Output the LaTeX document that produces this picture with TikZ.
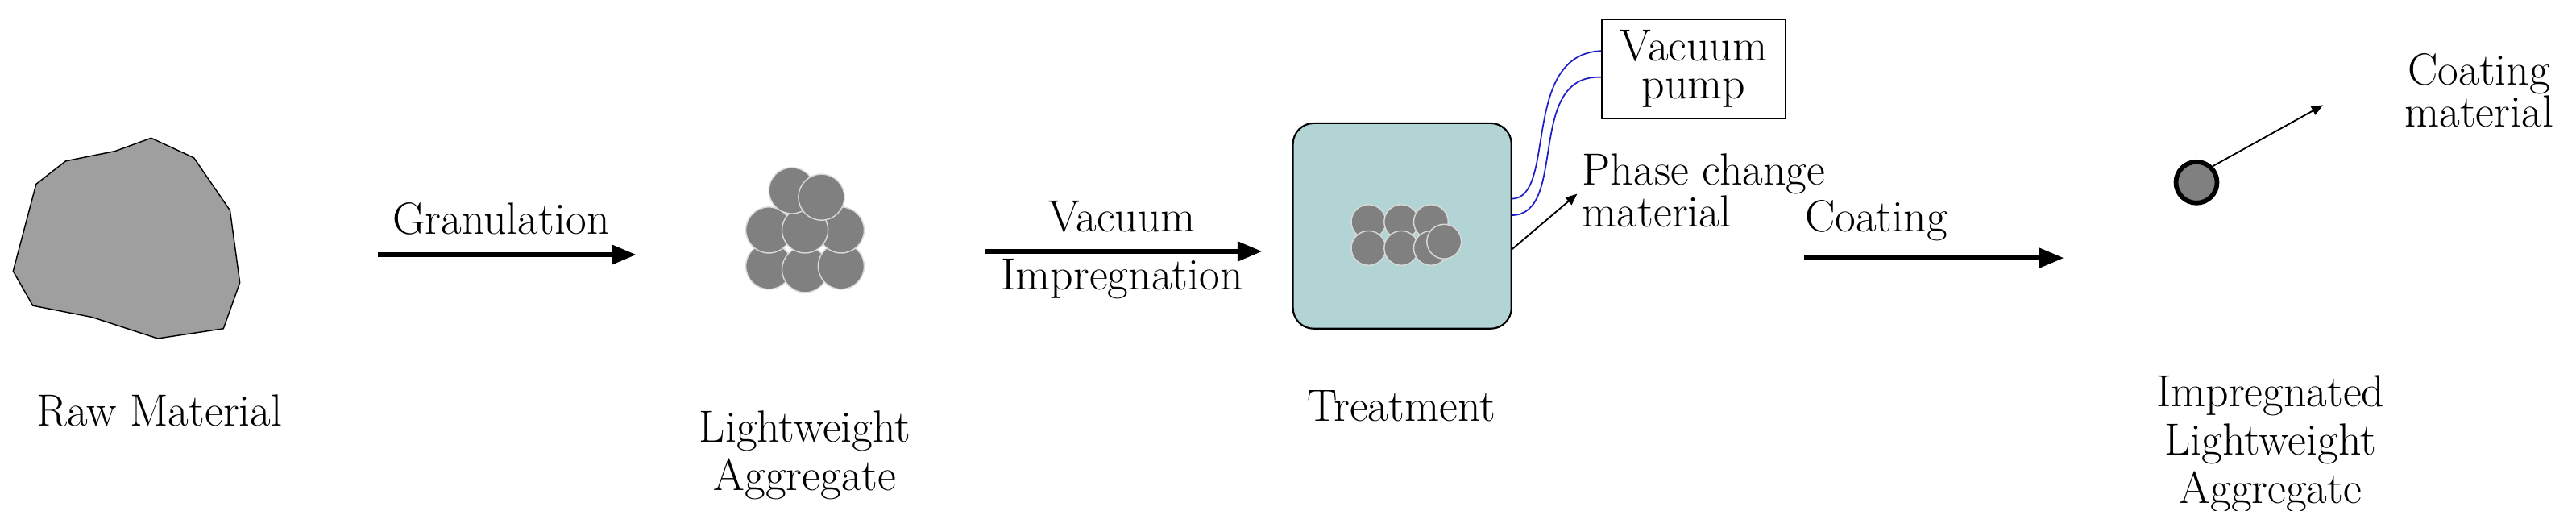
\documentclass[tikz,border=0pt]{standalone}
\usepackage{tikz}
\usetikzlibrary{arrows,positioning}
\definecolor{grainColor}{RGB}{128,128,128}
\definecolor{tankColor}{RGB}{179,212,212}
\definecolor{hoseColor}{RGB}{30,30,200}
\tikzset{
  lbl/.style={font=\fontsize{39}{42}\selectfont, align=center, inner sep=0pt},
  tight/.style={font=\fontsize{39}{33}\selectfont},
  grain/.style={fill=grainColor, draw=gray!30, line width=1pt},
  bigarrow/.style={->,>=triangle 45, line width=4pt},
  thinarrow/.style={->,>=triangle 45, line width=1.3pt}
}
\begin{document}
\begin{tikzpicture}[x=0.5mm,y=-0.5mm]
\useasboundingbox (0,0) rectangle (1568,310.5);
% raw material
\draw[fill=gray!75, line width=1pt] (8,165) -- (22,112) -- (40,98) -- (70,92) -- (92,84) -- (118,96) -- (140,128) -- (146,172) -- (136,200) -- (96,206) -- (56,193) -- (20,186) -- cycle;
\node[lbl] (raw) at (97,250) {Raw Material};
% granulation
\coordinate (g1) at (230,155);
\coordinate (g2) at (387,155);
\draw[bigarrow] (g1) -- (g2);
\node[lbl] (gran) at (305,133) {Granulation};
% lightweight aggregate
\begin{scope}[shift={(490,140)}]
  \foreach \x/\y in {-22/22,0/24,22/22,-22/0,22/0,0/0,-8/-24,10/-20}
    \draw[grain] (\x,\y) circle (14);
\end{scope}
\node[lbl] (lwa) at (490,277) {Lightweight\\Aggregate};
% vacuum impregnation
\coordinate (v1) at (600,153);
\coordinate (v2) at (768,153);
\draw[bigarrow] (v1) -- (v2);
\node[lbl] (vac) at (683,132) {Vacuum};
\node[lbl] (imp) at (683,170) {Impregnation};
% treatment
\node[draw, fill=tankColor, line width=1.5pt, rounded corners=18pt, minimum width=66.5mm, minimum height=62.5mm] (tank) at (853.5,137.5) {};
\begin{scope}[shift={(853,143)}]
  \foreach \x/\y in {-20/-8,0/-8,18/-8,-20/8,0/8,18/8}
    \draw[grain] (\x,\y) circle (10.5);
  \draw[grain] (26,4) circle (10.5);
\end{scope}
\node[lbl] (treat) at (853,247) {Treatment};
% vacuum pump
\node[draw, line width=1.2pt, lbl, tight, inner sep=2pt, minimum width=56mm, minimum height=30mm] (pump) at (1031,42) {Vacuum\\pump};
\coordinate (h1) at (920,121);
\coordinate (h2) at (920,131);
\draw[hoseColor, line width=1.2pt] (h1) .. controls (948,121) and (925,33) .. (pump.west |- 0,31);
\draw[hoseColor, line width=1.2pt] (h2) .. controls (955,131) and (928,45) .. (pump.west |- 0,47);
% phase change material
\coordinate (p1) at (920,152);
\coordinate (p2) at (960,118);
\draw[thinarrow] (p1) -- (p2);
\node[lbl, tight, align=left, anchor=west] (pcm) at (963,116) {Phase change\\material};
% coating
\coordinate (c1) at (1098,157);
\coordinate (c2) at (1256,157);
\draw[bigarrow] (c1) -- (c2);
\node[lbl] (coat) at (1142,134) {Coating};
% impregnated aggregate
\node[circle, draw, fill=grainColor, line width=4pt, minimum size=12.5mm] (ilwa) at (1337,111) {};
\coordinate (m2) at (1414,64);
\draw[thinarrow] (ilwa.north east) -- (m2);
\node[lbl, tight] (cmat) at (1509,55) {Coating\\material};
\node[lbl] (ilwalbl) at (1382,270) {Impregnated\\Lightweight\\Aggregate};
\end{tikzpicture}
\end{document}
